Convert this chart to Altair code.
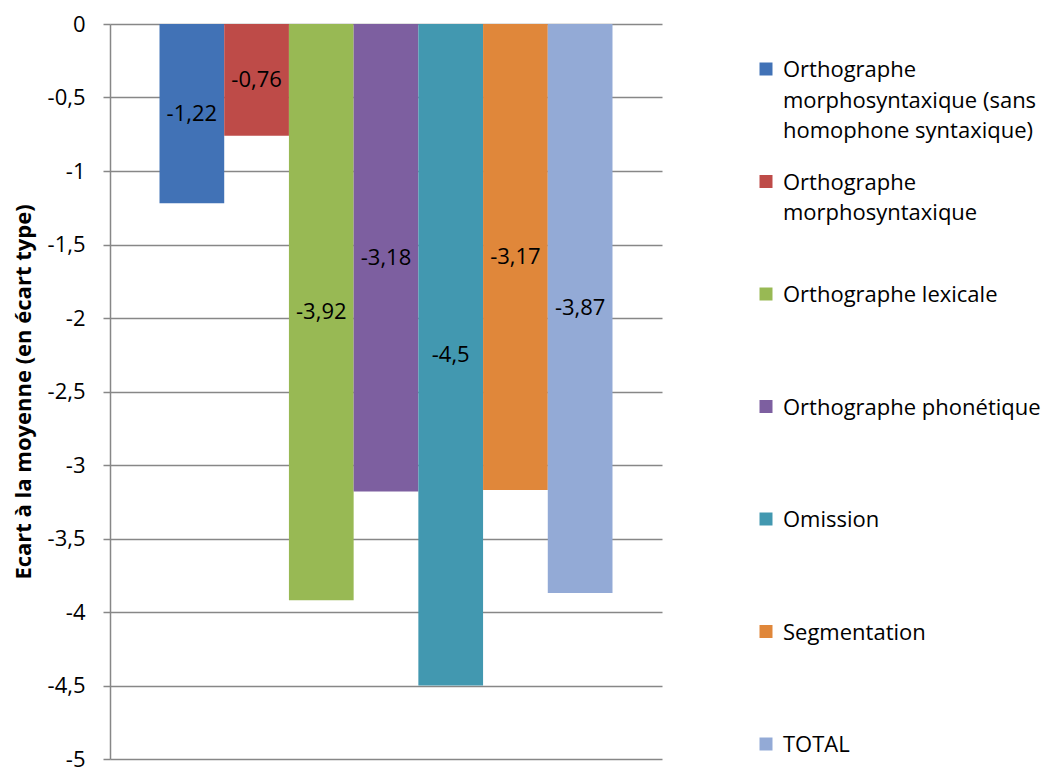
import altair as alt
import pandas as pd

series = [
    "Orthographe morphosyntaxique (sans homophone syntaxique)",
    "Orthographe morphosyntaxique",
    "Orthographe lexicale",
    "Orthographe phonétique",
    "Omission",
    "Segmentation",
    "TOTAL",
]
legend_labels = [
    "Orthographe\nmorphosyntaxique (sans\nhomophone syntaxique)",
    "Orthographe\nmorphosyntaxique",
    "Orthographe lexicale",
    "Orthographe phonétique",
    "Omission",
    "Segmentation",
    "TOTAL",
]
values = [-1.22, -0.76, -3.92, -3.18, -4.5, -3.17, -3.87]
colors = ["#4172B6", "#BE4B48", "#98B954", "#7D5FA0", "#4298B0", "#E0873A", "#93AAD6"]
y_ticks = [0, -0.5, -1, -1.5, -2, -2.5, -3, -3.5, -4, -4.5, -5]
y_title = "Ecart à la moyenne (en écart type)"

FONT = "Open Sans"
GRID = "#878787"

df = pd.DataFrame({"series": series, "value": values})
leg_df = pd.DataFrame({"series": series, "label": legend_labels})

color_scale = alt.Scale(domain=series, range=colors)
x_enc = alt.X("series:N", sort=series,
              scale=alt.Scale(paddingInner=0, paddingOuter=0.765), axis=None)

bars = alt.Chart(df).mark_bar().encode(
    x=x_enc,
    y=alt.Y("value:Q",
            scale=alt.Scale(domain=[-5, 0], nice=False, zero=False),
            axis=alt.Axis(values=y_ticks, title=y_title,
                          labelExpr="replace(toString(datum.value), '.', ',')",
                          grid=True, gridColor=GRID, gridWidth=1.5,
                          domainColor=GRID, domainWidth=1.5,
                          tickColor=GRID, tickWidth=1.5, tickSize=7,
                          labelFont=FONT, labelFontSize=22, labelColor="black",
                          labelPadding=18,
                          titleFont=FONT, titleFontSize=22, titleFontWeight="bold",
                          titleColor="black", titlePadding=12)),
    color=alt.Color("series:N", scale=color_scale, legend=None),
)

labels = alt.Chart(df).transform_calculate(
    mid="datum.value / 2",
    lab="replace(toString(datum.value), '.', ',')",
).mark_text(font=FONT, fontSize=22, color="black").encode(
    x=x_enc,
    y=alt.Y("mid:Q"),
    text="lab:N",
)

main = alt.layer(bars, labels).properties(width=552, height=735)

leg_y = alt.Y("series:N", sort=series,
              scale=alt.Scale(type="point", range=[45, 720], padding=0), axis=None)

squares = alt.Chart(leg_df).mark_square(size=169, opacity=1).encode(
    x=alt.value(16),
    y=leg_y,
    color=alt.Color("series:N", scale=color_scale, legend=None),
)
texts = alt.Chart(leg_df).mark_text(
    align="left", baseline="alphabetic", dy=8, lineHeight=30.5,
    lineBreak="\n", font=FONT, fontSize=22, color="black",
).encode(
    x=alt.value(33),
    y=leg_y,
    text="label:N",
)
legend = alt.layer(squares, texts).properties(width=270, height=735)

chart = alt.hconcat(main, legend, spacing=88).configure_view(
    stroke=None
).properties(
    padding={"left": 4, "top": 5, "right": 0, "bottom": 4},
    background="white",
)

chart.save("out.html", embed_options={"renderer": "svg", "actions": False})
